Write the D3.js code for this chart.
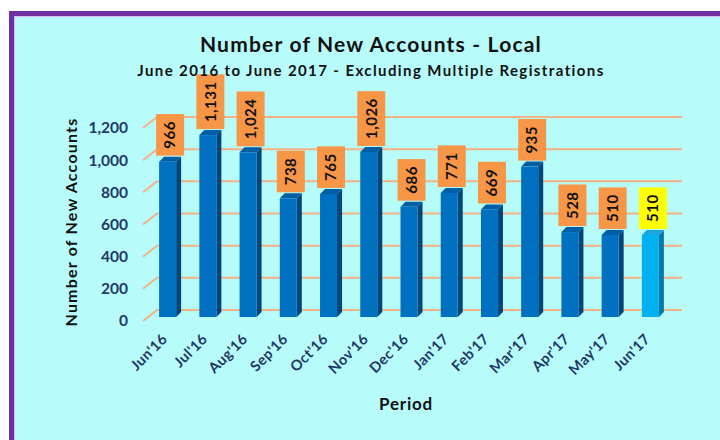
<!DOCTYPE html>
<html lang="en-US">
<head>
  <meta charset="UTF-8"/>
  <title>Number of New Accounts - Local</title>
  <style>
    body { margin: 0; background: #ffffff; }
    svg text { font-family: Lato, "Open Sans", sans-serif; font-weight: bold; }
  </style>
</head>
<body>
<script src="https://cdn.jsdelivr.net/npm/d3@7"></script>
<script>

// data
var months = ["Jun'16","Jul'16","Aug'16","Sep'16","Oct'16","Nov'16","Dec'16","Jan'17","Feb'17","Mar'17","Apr'17","May'17","Jun'17"];
var accounts = [966, 1131, 1024, 738, 765, 1026, 686, 771, 669, 935, 528, 510, 510];
var yTicks = [0, 200, 400, 600, 800, 1000, 1200];

var W = 720, H = 440;

var svg = d3.select("body").append("svg")
    .attr("width", W)
    .attr("height", H);

// frame + background
svg.append("rect").attr("x", 9).attr("y", 11).attr("width", W).attr("height", H)
    .attr("fill", "#7030a0");
svg.append("rect").attr("x", 14).attr("y", 16).attr("width", W).attr("height", H)
    .attr("fill", "#d9b8ee");
svg.append("rect").attr("x", 15).attr("y", 17).attr("width", W).attr("height", H)
    .attr("fill", "#b7fbfb");

// scales (back wall of the 3d plot)
var x = d3.scaleBand().domain(months).range([150, 673]).paddingInner(0).paddingOuter(0);
var y = d3.scaleLinear().domain([0, 1200]).range([310, 117]);

var dx = 14, dy = 11;      // floor depth of gridline stubs
var bw = 17, bd = 5;       // bar front width, bar depth
var fy = 7;                // bar front offset from back wall

// gridlines
var grid = svg.append("g");
yTicks.forEach(function(t) {
  grid.append("line")
      .attr("x1", 157).attr("x2", 682)
      .attr("y1", y(t)).attr("y2", y(t))
      .attr("stroke", "#f4b183").attr("stroke-width", 2);
  grid.append("line")
      .attr("x1", 157 - dx).attr("x2", 157)
      .attr("y1", y(t) + dy).attr("y2", y(t))
      .attr("stroke", "#f4b183").attr("stroke-width", 2);
});

// y tick labels
svg.append("g").selectAll("text")
    .data(yTicks)
    .join("text")
    .attr("x", 128)
    .attr("y", function(d) { return y(d) + dy; })
    .attr("dy", "0.35em")
    .attr("text-anchor", "end")
    .attr("font-size", 15.5)
    .attr("fill", "#1f3864")
    .text(function(d) { return d3.format(",")(d); });

// bars
var bars = svg.append("g").selectAll("g")
    .data(accounts)
    .join("g");

function barLeft(i) { return x(months[i]) + (x.bandwidth() - bw) / 2 - 2.5; }
function barTop(d) { return y(d) + fy; }
var base = y(0) + fy;
function isLast(i) { return i === accounts.length - 1; }

bars.append("path")  // side
    .attr("d", function(d, i) {
      var l = barLeft(i) + bw;
      return "M" + l + "," + base + "L" + l + "," + barTop(d) + "L" + (l + bd) + "," + (barTop(d) - bd)
        + "L" + (l + bd) + "," + (base - bd) + "Z";
    })
    .attr("fill", function(d, i) { return isLast(i) ? "#0079a8" : "#00467d"; });

bars.append("path")  // top
    .attr("d", function(d, i) {
      var l = barLeft(i);
      return "M" + l + "," + barTop(d) + "L" + (l + bd) + "," + (barTop(d) - bd) + "L" + (l + bw + bd) + "," + (barTop(d) - bd)
        + "L" + (l + bw) + "," + barTop(d) + "Z";
    })
    .attr("fill", function(d, i) { return isLast(i) ? "#1aa6dc" : "#005ea4"; });

bars.append("rect")  // front
    .attr("x", function(d, i) { return barLeft(i); })
    .attr("y", function(d) { return barTop(d); })
    .attr("width", bw)
    .attr("height", function(d) { return base - barTop(d); })
    .attr("fill", function(d, i) { return isLast(i) ? "#00b0f0" : "#0070c0"; });

// value labels in boxes
var labels = svg.append("g").selectAll("g")
    .data(accounts)
    .join("g");

labels.each(function(d, i) {
  var g = d3.select(this);
  var cx = barLeft(i) + (bw + bd) / 2;
  var bottom = barTop(d) - bd - 1;
  var box = g.append("rect")
      .attr("fill", isLast(i) ? "#ffff00" : "#f79646");
  var t = g.append("text")
      .attr("font-size", 15)
      .attr("font-weight", "normal")
      .attr("letter-spacing", 0.5)
      .attr("fill", "#111")
      .attr("text-anchor", "middle")
      .text(d3.format(",")(d));
  var len = t.node().getComputedTextLength();
  var h = len + 14;
  box.attr("x", cx - 14).attr("y", bottom - h).attr("width", 28).attr("height", h);
  t.attr("transform", "translate(" + cx + "," + (bottom - h / 2) + ") rotate(-90)")
   .attr("dy", "0.35em");
});

// x labels
svg.append("g").selectAll("text")
    .data(months)
    .join("text")
    .attr("transform", function(d, i) {
      return "translate(" + (barLeft(i) + 9) + ",340) rotate(-45)";
    })
    .attr("text-anchor", "end")
    .attr("font-size", 14.5)
    .attr("letter-spacing", 0.4)
    .attr("fill", "#1f3864")
    .text(function(d) { return d; });

// titles
svg.append("text")
    .attr("x", 371).attr("y", 52)
    .attr("text-anchor", "middle")
    .attr("font-size", 21)
    .attr("letter-spacing", 1.2)
    .attr("fill", "#111")
    .text("Number of New Accounts - Local");

svg.append("text")
    .attr("x", 371).attr("y", 76)
    .attr("text-anchor", "middle")
    .attr("font-size", 15)
    .attr("letter-spacing", 1.4)
    .attr("fill", "#111")
    .text("June 2016 to June 2017 - Excluding Multiple Registrations");

svg.append("text")
    .attr("transform", "translate(77,222) rotate(-90)")
    .attr("text-anchor", "middle")
    .attr("font-size", 16)
    .attr("letter-spacing", 1.2)
    .attr("fill", "#111")
    .text("Number of New Accounts");

svg.append("text")
    .attr("x", 406).attr("y", 410)
    .attr("text-anchor", "middle")
    .attr("font-size", 17)
    .attr("letter-spacing", 0.8)
    .attr("fill", "#111")
    .text("Period");

</script>
</body>
</html>
